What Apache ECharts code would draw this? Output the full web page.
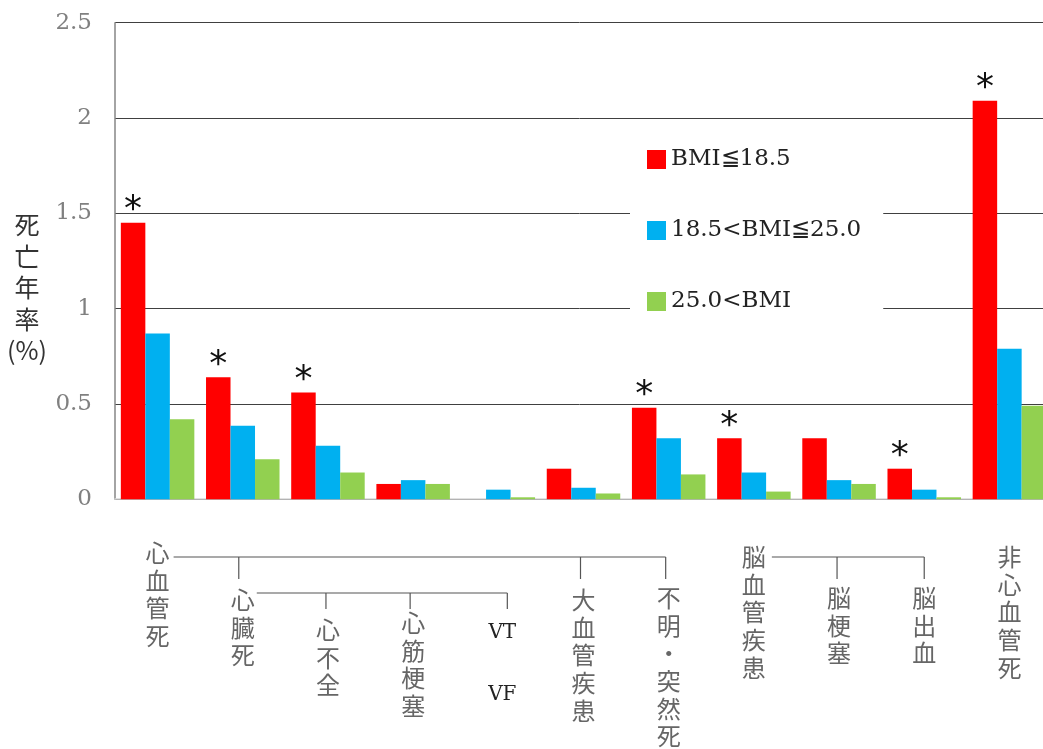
<!DOCTYPE html>
<html>
<head>
<meta charset="utf-8">
<script src="https://cdn.jsdelivr.net/npm/echarts@6/dist/echarts.min.js"></script>
<style>
  html, body { margin: 0; padding: 0; background: #fff; }
  #chart { width: 1043px; height: 749px; }
</style>
</head>
<body>
<div id="chart"></div>
<script>
// Cause-of-death categories, in axis order
const categories = ['心血管死', '心臓死', '心不全', '心筋梗塞', 'VT\n\nVF', '大血管疾患', '不明・突然死', '脳血管疾患', '脳梗塞', '脳出血', '非心血管死'];

// Annual mortality (%) by BMI class
const seriesNames = ['BMI≦18.5', '18.5<BMI≦25.0', '25.0<BMI'];
const lowBmi    = [1.45, 0.64, 0.56, 0.08, 0,    0.16, 0.48, 0.32, 0.32, 0.16, 2.09];
const normalBmi = [0.87, 0.385, 0.28, 0.10, 0.05, 0.06, 0.32, 0.14, 0.10, 0.05, 0.79];
const highBmi   = [0.42, 0.21, 0.14, 0.08, 0.01, 0.03, 0.13, 0.04, 0.08, 0.01, 0.49];

// Significance marks on the low-BMI bars
const significant = [true, true, true, false, false, false, true, true, false, true, true];

const yTicks = [0, 0.5, 1, 1.5, 2, 2.5];

const colors = ['#FF0000', '#00B0F0', '#92D050'];
const serifFont = '"DejaVu Serif", "Liberation Serif", serif';
const cjkFont = '"Noto Sans CJK JP", sans-serif';

const chart = echarts.init(document.getElementById('chart'), null, { renderer: 'canvas' });

const barSeries = [lowBmi, normalBmi, highBmi].map((vals, i) => ({
  name: seriesNames[i],
  type: 'bar',
  data: vals,
  barWidth: 24.5,
  barGap: '0%',
  itemStyle: { color: colors[i] },
  label: i === 0 ? {
    show: true,
    position: 'top',
    distance: -6,
    formatter: p => significant[p.dataIndex] ? '*' : '',
    fontSize: 36,
    fontFamily: '"DejaVu Sans", sans-serif',
    color: '#111'
  } : { show: false }
}));

chart.setOption({
  animation: false,
  grid: { left: 115, top: 22.7, width: 937, height: 476.5, outerBoundsMode: 'none', containLabel: false },
  legend: {
    data: seriesNames,
    orient: 'vertical',
    left: 630,
    top: 130,
    padding: [18, 22, 18, 17],
    itemWidth: 19,
    itemHeight: 19,
    itemGap: 48,
    backgroundColor: '#fff',
    icon: 'rect',
    textStyle: { fontFamily: serifFont, fontSize: 23, color: '#222' }
  },
  xAxis: {
    type: 'category',
    data: categories,
    axisLine: { show: true, lineStyle: { color: '#d9d9d9', width: 1.5 } },
    axisTick: { show: false },
    axisLabel: { show: false }
  },
  yAxis: {
    type: 'value',
    min: yTicks[0],
    max: yTicks[yTicks.length - 1],
    interval: 0.5,
    axisLine: { show: true, lineStyle: { color: '#868686', width: 1.5 } },
    axisTick: { show: false },
    splitLine: { show: true, lineStyle: { color: '#404040', width: 1 } },
    axisLabel: {
      margin: 23,
      fontFamily: serifFont,
      fontSize: 23,
      color: '#808080',
      formatter: v => String(v)
    }
  },
  series: barSeries
});

// Category labels (vertical text) and the grouping brackets beneath the axis
const cx = categories.map(c => chart.convertToPixel({ xAxisIndex: 0 }, c));
const labelTops = [543, 590, 620, 613, 620, 590, 588, 547, 588, 588, 547];
const lineColor = '#555';
const graphics = [];

categories.forEach((c, i) => {
  const isLatin = i === 4;
  const text = isLatin ? c : Array.from(c).join('\n');
  graphics.push({
    type: 'text',
    x: cx[i] + (isLatin ? 4 : 0),
    y: labelTops[i] - (isLatin ? 3 : 4),
    silent: true,
    style: {
      text: text,
      align: 'center',
      verticalAlign: 'top',
      fontFamily: isLatin ? serifFont : cjkFont,
      fontSize: isLatin ? 20 : 24,
      lineHeight: isLatin ? 31 : 27.7,
      fill: isLatin ? '#222' : '#666'
    }
  });
});

function seg(x1, y1, x2, y2) {
  graphics.push({
    type: 'line', silent: true,
    shape: { x1, y1, x2, y2 },
    style: { stroke: lineColor, lineWidth: 1.2 }
  });
}

// cardiovascular group
const yA = 557;
seg(cx[0] + 16, yA, cx[6] - 3, yA);
[[1, -4], [5, -3], [6, -3]].forEach(([k, d]) => seg(cx[k] + d, yA, cx[k] + d, 579));
// cardiac sub-group
const yB = 593;
seg(cx[1] + 14, yB, cx[4] + 9, yB);
[[2, -2], [3, -3], [4, 9]].forEach(([k, d]) => seg(cx[k] + d, yB, cx[k] + d, 609));
// cerebrovascular group
seg(cx[7] + 18, yA, cx[9], yA);
[[8, -2], [9, 0]].forEach(([k, d]) => seg(cx[k] + d, yA, cx[k] + d, 579));

// y-axis title
graphics.push({
  type: 'text', silent: true,
  x: 27, y: 209,
  style: {
    text: '死\n亡\n年\n率\n(%)',
    align: 'center',
    verticalAlign: 'top',
    fontFamily: cjkFont,
    fontSize: 25,
    lineHeight: 31.5,
    fill: '#333'
  }
});

chart.setOption({ graphic: graphics });
</script>
</body>
</html>
